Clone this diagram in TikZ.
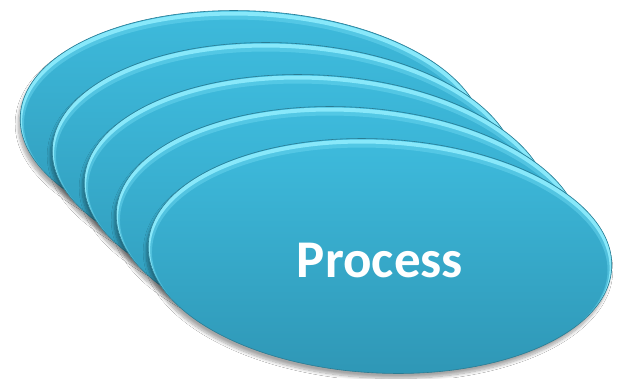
\documentclass[tikz,border=0pt]{standalone}
\usepackage{fontspec}
\setmainfont{Carlito}
\usetikzlibrary{shadows.blur}
\definecolor{discTop}{HTML}{3EBCDE}
\definecolor{discBot}{HTML}{2F97B6}
\definecolor{rimLight}{HTML}{88E8FA}
\definecolor{rimDark}{HTML}{2A7C93}
\tikzset{
  discfill/.style={top color=discTop, bottom color=discBot, draw=none,
    blur shadow={shadow xshift=-2pt, shadow yshift=-5pt, shadow blur steps=10,
      shadow blur radius=3pt, shadow opacity=35}},
  rimglow/.style={draw=rimLight, line width=4pt},
  rimsoft/.style={draw=rimLight!60!discTop, line width=8pt, opacity=0.5},
  rimline/.style={draw=rimDark, line width=0.6pt},
  labeltext/.style={text=white, font=\fontsize{53}{60}\selectfont\bfseries, anchor=base}
}
\begin{document}
\begin{tikzpicture}[x=1pt, y=-1pt]
  \useasboundingbox[fill=white] (0,0) rectangle (623,378);
  \foreach \i in {0,...,4}{
    \coordinate (c\i) at (252+32*\i, 128+32*\i);
    \path[discfill, rotate around={-3:(c\i)}] (c\i) ellipse [x radius=232pt, y radius=117pt];
    \begin{scope}
      \clip[rotate around={-3:(c\i)}] (c\i) ellipse [x radius=232pt, y radius=117pt];
      \path[rimsoft, rotate around={-3:(c\i)}] ([yshift=-5pt]c\i) ellipse [x radius=232pt, y radius=117pt];
      \path[rimglow, rotate around={-3:(c\i)}] ([yshift=-3pt]c\i) ellipse [x radius=232pt, y radius=117pt];
    \end{scope}
    \path[rimline, rotate around={-3:(c\i)}] (c\i) ellipse [x radius=232pt, y radius=117pt];
  }
  \node[labeltext] (label) at (380,277) {Process};
\end{tikzpicture}
\end{document}
